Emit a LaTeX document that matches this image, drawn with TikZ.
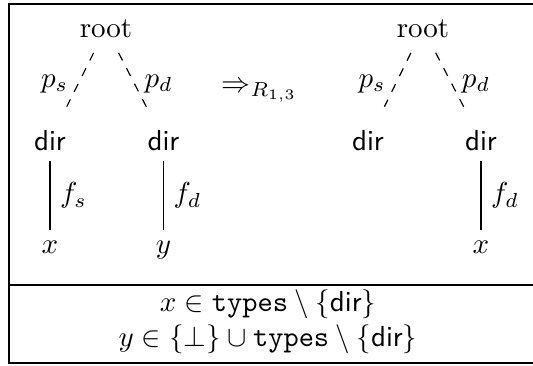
\documentclass[tikz,border=0pt]{standalone}
\usepackage{amsmath}
\usetikzlibrary{positioning}
\newcommand{\dirtype}{\textsf{dir}}
\newcommand{\typeset}{\texttt{types}}
\tikzset{
  treenode/.style={
    anchor=base,
    inner sep=3.33pt
  },
  pathedge/.style={
    dashed,
    shorten <=2pt,
    shorten >=5pt
  },
  fileedge/.style={
    line width=0.4pt
  },
  frameline/.style={
    line width=0.4pt
  }
}

\begin{document}
\begin{tikzpicture}

  \useasboundingbox (0,0) rectangle (6.463,-4.426);

  % Table frame
  \draw [frameline] (6.50,-0.0485) -- (0.109,-0.0485) -- (0.109,-4.401) -- (6.50,-4.401);
  \draw [frameline] (0.109,-3.456) -- (6.50,-3.456);

  % Left tree
  \node (rootA) [treenode] at (1.285,-0.449) {root};
  \node (dirA1) [treenode] at (0.606,-1.819) {\dirtype};
  \node (dirA2) [treenode] at (1.982,-1.819) {\dirtype};
  \node (xA) [treenode] at (0.606,-3.068) {$x$};
  \node (yA) [treenode] at (1.982,-3.068) {$y$};

  % Rewrite step
  \node (step) [treenode] at (3.146,-1.116) {$\Rightarrow_{R_{1,3}}$};

  % Right tree
  \node (rootB) [treenode] at (5.129,-0.449) {root};
  \node (dirB1) [treenode] at (4.462,-1.819) {\dirtype};
  \node (dirB2) [treenode] at (5.832,-1.819) {\dirtype};
  \node (xB) [treenode] at (5.832,-3.068) {$x$};

  % Side conditions
  \node (condx) [treenode] at (3.25,-3.783) {$x \in \typeset \setminus \{\dirtype\}$};
  \node (condy) [treenode] at (3.25,-4.207) {$y \in \{\bot\} \cup \typeset \setminus \{\dirtype\}$};

  % Edges
  \draw [pathedge] (rootA) -- node [left] {$p_s$} (dirA1);
  \draw [pathedge] (rootA) -- node [right] {$p_d$} (dirA2);
  \draw [fileedge] (dirA1) -- node [right] {$f_s$} (xA);
  \draw [fileedge] (dirA2) -- node [right] {$f_d$} (yA);

  \draw [pathedge] (rootB) -- node [left] {$p_s$} (dirB1);
  \draw [pathedge] (rootB) -- node [right] {$p_d$} (dirB2);
  \draw [fileedge] (dirB2) -- node [right] {$f_d$} (xB);

\end{tikzpicture}
\end{document}
